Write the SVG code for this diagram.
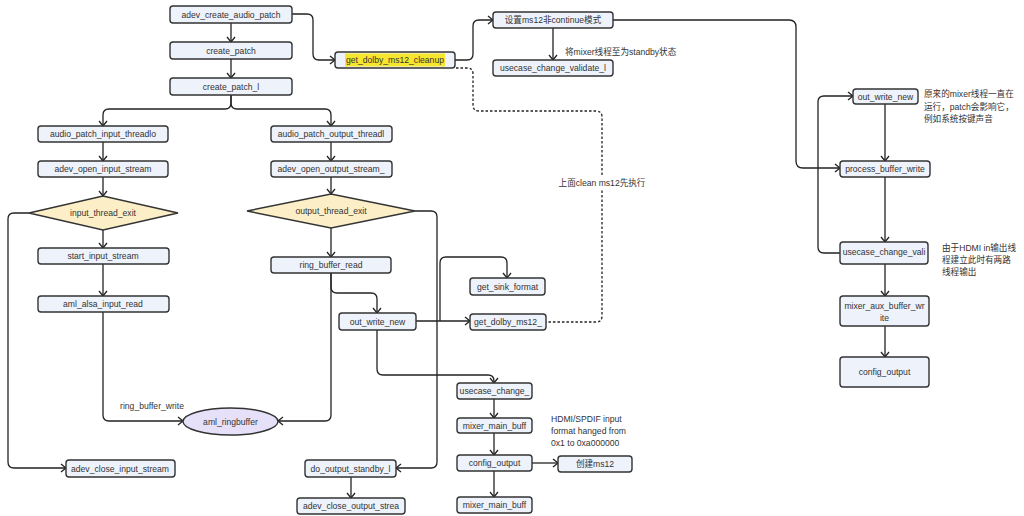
<svg xmlns="http://www.w3.org/2000/svg" width="1024" height="516" viewBox="0 0 1024 516">
<defs>
<marker id="arr" markerUnits="userSpaceOnUse" markerWidth="10" markerHeight="10" refX="6.5" refY="5" orient="auto">
<path d="M1.5,1 L6.5,5 L1.5,9" fill="none" stroke="#222" stroke-width="1.3"/>
</marker>
<style>
text{font-family:"Liberation Sans","Noto Sans CJK SC",sans-serif;font-size:8.6px;fill:#333;}
.n rect{fill:#eef2fb;stroke:#333;stroke-width:1.4;}
.n text{text-anchor:middle;dominant-baseline:central;}
.d polygon{fill:#fcefc7;stroke:#333;stroke-width:1.4;}
.c path{fill:none;stroke:#222;stroke-width:1.3;}
.c .a{marker-end:url(#arr);}
.c .dot{stroke-dasharray:2.5 2;}
</style>
</defs>
<rect width="1024" height="516" fill="#ffffff"/>

<g class="c" id="connectors">
<path class="a" d="M231,23 V42"/>
<path class="a" d="M231,59 V78"/>
<path class="a" d="M231,95 V103 Q231,109 225,109 H109 Q103,109 103,115 V126"/>
<path class="a" d="M231,95 V103 Q231,109 237,109 H325 Q331,109 331,115 V126"/>
<path class="a" d="M103,142 V161"/>
<path class="a" d="M103,177 V196"/>
<path class="a" d="M103,230 V248"/>
<path class="a" d="M103,264 V296"/>
<path class="a" d="M103,312 V415 Q103,421 109,421 H183"/>
<path class="a" d="M29,213 H14 Q8,213 8,219 V462 Q8,468 14,468 H66"/>
<path class="a" d="M331,142 V161"/>
<path class="a" d="M331,177 V194"/>
<path class="a" d="M331,228 V257"/>
<path class="a" d="M331,273 V415 Q331,421 325,421 H278"/>
<path class="a" d="M331,273 V287 Q331,293 337,293 H371 Q377,293 377,299 V313"/>
<path class="a" d="M415,211 H431 Q437,211 437,217 V462 Q437,468 431,468 H396"/>
<path class="a" d="M351,477 V498"/>
<path class="a" d="M416,321 H470"/>
<path class="a" d="M440,321 V263 Q440,257 446,257 H501 Q507,257 507,263 V278"/>
<path class="a" d="M377,330 V369 Q377,375 383,375 H488 Q494,375 494,381 V383"/>
<path class="a" d="M494,399 V418"/>
<path class="a" d="M494,433 V455"/>
<path class="a" d="M494,471 V497"/>
<path class="a" d="M532,463 H558"/>
<path class="a" d="M292,14 H307 Q313,14 313,20 V54 Q313,60 319,60 H335"/>
<path class="a" d="M455,60 H467 Q473,60 473,54 V26 Q473,20 479,20 H493"/>
<path class="a" d="M553,28 V60"/>
<path class="a" d="M613,20 H789 Q796,20 796,27 V161 Q796,168 803,168 H840"/>
<path class="a" d="M885,104 V161"/>
<path class="a" d="M885,177 V242"/>
<path class="a" d="M840,253 H824 Q818,253 818,247 V102 Q818,96 824,96 H853"/>
<path class="a" d="M885,264 V296"/>
<path class="a" d="M885,326 V357"/>
<path class="dot" d="M456,68 H467 Q473,68 473,74 V105 Q473,111 479,111 H596 Q602,111 602,117 V316 Q602,322 596,322 H546"/>
</g>

<g id="labels">
<rect x="561" y="176" width="82" height="14" fill="#ffffff"/>
<text x="602" y="186" text-anchor="middle">上面clean ms12先执行</text>
<text x="152" y="409" text-anchor="middle">ring_buffer_write</text>
<text x="565" y="55">将mixer线程至为standby状态</text>
<text x="924" y="97">原来的mixer线程一直在</text>
<text x="924" y="110">运行，patch会影响它，</text>
<text x="924" y="122">例如系统按键声音</text>
<text x="942" y="251">由于HDMI in输出线</text>
<text x="942" y="263">程建立此时有两路</text>
<text x="942" y="275">线程输出</text>
<text x="551" y="422">HDMI/SPDIF input</text>
<text x="551" y="434">format hanged from</text>
<text x="551" y="446">0x1 to 0xa000000</text>
</g>

<g class="n" id="adev_create_audio_patch"><rect x="170" y="6" width="122" height="17" rx="3"/><text x="231" y="14.5">adev_create_audio_patch</text></g>
<g class="n" id="create_patch"><rect x="170" y="42" width="122" height="17" rx="3"/><text x="231" y="50.5">create_patch</text></g>
<g class="n" id="create_patch_l"><rect x="170" y="78" width="122" height="17" rx="3"/><text x="231" y="86.5">create_patch_l</text></g>
<g class="n" id="get_dolby_ms12_cleanup"><rect x="335" y="52" width="120" height="16" rx="3"/><rect x="345" y="53.5" width="100" height="13" style="fill:#f7e62e;stroke:none"/><text x="395" y="60">get_dolby_ms12_cleanup</text></g>
<g class="n" id="set_ms12"><rect x="493" y="12" width="120" height="16" rx="3"/><text x="553" y="20">设置ms12非continue模式</text></g>
<g class="n" id="usecase_change_validate_l"><rect x="493" y="60" width="120" height="16" rx="3"/><text x="553" y="68">usecase_change_validate_l</text></g>

<g class="n" id="audio_patch_input_threadlo"><rect x="38" y="126" width="130" height="16" rx="3"/><text x="103" y="134">audio_patch_input_threadlo</text></g>
<g class="n" id="adev_open_input_stream"><rect x="38" y="161" width="130" height="16" rx="3"/><text x="103" y="169">adev_open_input_stream</text></g>
<g class="d" id="input_thread_exit"><polygon points="29,213 103,196 178,213 103,230"/><text x="103" y="213" text-anchor="middle" dominant-baseline="central">input_thread_exit</text></g>
<g class="n" id="start_input_stream"><rect x="38" y="248" width="131" height="16" rx="3"/><text x="103" y="256">start_input_stream</text></g>
<g class="n" id="aml_alsa_input_read"><rect x="38" y="296" width="131" height="16" rx="3"/><text x="103" y="304">aml_alsa_input_read</text></g>
<g class="n" id="adev_close_input_stream"><rect x="66" y="460" width="109" height="17" rx="3"/><text x="120" y="468.5">adev_close_input_stream</text></g>

<g class="n" id="audio_patch_output_threadl"><rect x="271" y="126" width="121" height="16" rx="3"/><text x="331" y="134">audio_patch_output_threadl</text></g>
<g class="n" id="adev_open_output_stream_"><rect x="271" y="161" width="121" height="16" rx="3"/><text x="331" y="169">adev_open_output_stream_</text></g>
<g class="d" id="output_thread_exit"><polygon points="247,211 331,194 415,211 331,228"/><text x="331" y="211" text-anchor="middle" dominant-baseline="central">output_thread_exit</text></g>
<g class="n" id="ring_buffer_read"><rect x="271" y="257" width="120" height="16" rx="3"/><text x="331" y="265">ring_buffer_read</text></g>
<g class="n" id="out_write_new_mid"><rect x="339" y="313" width="77" height="17" rx="3"/><text x="377.5" y="321.5">out_write_new</text></g>
<g class="n" id="get_sink_format"><rect x="470" y="278" width="75" height="17" rx="3"/><text x="507.5" y="286.5">get_sink_format</text></g>
<g class="n" id="get_dolby_ms12_"><rect x="470" y="314" width="76" height="16" rx="3"/><text x="508" y="322">get_dolby_ms12_</text></g>
<g class="n" id="do_output_standby_l"><rect x="305" y="460" width="91" height="17" rx="3"/><text x="350.5" y="468.5">do_output_standby_l</text></g>
<g class="n" id="adev_close_output_strea"><rect x="297" y="498" width="108" height="16" rx="3"/><text x="351" y="506">adev_close_output_strea</text></g>

<g id="aml_ringbuffer"><ellipse cx="230.5" cy="421.5" rx="47.5" ry="13.5" fill="#e6e0f8" stroke="#333" stroke-width="1.4"/><text x="230.5" y="421.5" text-anchor="middle" dominant-baseline="central">aml_ringbuffer</text></g>

<g class="n" id="usecase_change_"><rect x="457" y="383" width="75" height="16" rx="3"/><text x="494.5" y="391">usecase_change_</text></g>
<g class="n" id="mixer_main_buff_1"><rect x="457" y="418" width="75" height="15" rx="3"/><text x="494.5" y="425.5">mixer_main_buff</text></g>
<g class="n" id="config_output_mid"><rect x="457" y="455" width="75" height="16" rx="3"/><text x="494.5" y="463">config_output</text></g>
<g class="n" id="mixer_main_buff_2"><rect x="457" y="497" width="75" height="16" rx="3"/><text x="494.5" y="505">mixer_main_buff</text></g>
<g class="n" id="create_ms12"><rect x="558" y="456" width="74" height="16" rx="3"/><text x="595" y="464">创建ms12</text></g>

<g class="n" id="out_write_new_right"><rect x="853" y="89" width="65" height="15" rx="3"/><text x="885.5" y="96.5">out_write_new</text></g>
<g class="n" id="process_buffer_write"><rect x="840" y="161" width="90" height="16" rx="3"/><text x="885" y="169">process_buffer_write</text></g>
<g class="n" id="usecase_change_vali"><rect x="840" y="242" width="88" height="22" rx="3"/><text x="884" y="252">usecase_change_vali</text></g>
<g class="n" id="mixer_aux_buffer_write"><rect x="840" y="296" width="89" height="30" rx="3"/><text x="884.5" y="306">mixer_aux_buffer_wr</text><text x="884.5" y="318">ite</text></g>
<g class="n" id="config_output_right"><rect x="840" y="357" width="89" height="30" rx="3"/><text x="884.5" y="372">config_output</text></g>
</svg>
